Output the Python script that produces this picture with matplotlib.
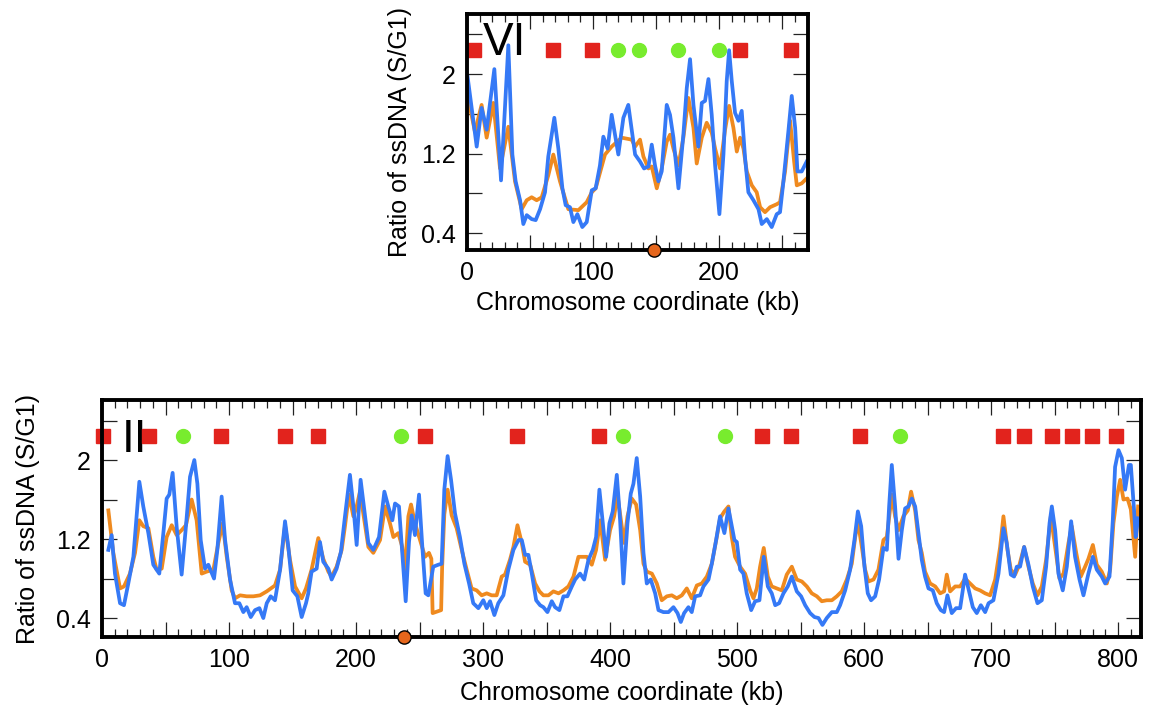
import matplotlib
matplotlib.use('Agg')
from matplotlib import pyplot as plt
from matplotlib.ticker import MultipleLocator, FixedLocator, FuncFormatter

plt.rcParams['font.family'] = ['Liberation Sans', 'DejaVu Sans']

# ---- chromosome VI (top panel) ----
vi_blue_kb = [0.5, 7.7, 11.6, 15.6, 21.7, 27, 32.8, 36, 38.6, 42.1, 44.7, 47.4, 51.3, 54.5, 58, 61.9,
              64.5, 69.3, 72.5, 75.7, 78.3, 81.7, 84.4, 87.6, 91.5, 95, 99, 102.1, 105.5, 108.2, 111.6,
              114.8, 120.1, 124.1, 128, 133.4, 137.3, 140.5, 144, 146.6, 149.2, 151.9, 154.5, 158.5,
              161.1, 163.8, 167.8, 171.7, 174.4, 177, 179.7, 183.6, 186.3, 188.9, 191.6, 194.2, 196.9,
              200.3, 203.5, 206.1, 208, 210.1, 212.7, 215.4, 218, 220.7, 223.3, 227.3, 231.3, 233.9,
              237.9, 241.8, 245.8, 248.4, 251.1, 255, 257.7, 260.4, 262.2, 265.6, 269.6]
vi_blue = [1.97, 1.27, 1.66, 1.44, 2.05, 0.93, 2.29, 1.19, 0.92, 0.73, 0.49, 0.58, 0.54, 0.53, 0.64, 0.81,
           1.17, 1.56, 1.25, 0.85, 0.68, 0.66, 0.51, 0.59, 0.46, 0.51, 0.83, 0.85, 1.08, 1.37, 1.25,
           1.59, 1.19, 1.56, 1.69, 1.19, 1.12, 1.05, 1.07, 1.29, 1.08, 0.92, 1.02, 1.69,
           1.59, 1.36, 0.85, 1.39, 1.86, 2.15, 1.69, 1.27, 1.71, 1.73, 1.95, 1.59, 1.08,
           0.59, 1.19, 1.93, 2.24, 1.93, 1.61, 1.53, 1.63, 1.15, 0.81, 0.73, 0.64, 0.49,
           0.54, 0.46, 0.59, 0.61, 0.92, 1.42, 1.78, 1.46, 1.02, 1.02, 1.12]

vi_orange_kb = [0.5, 6.3, 11.6, 15.6, 20.9, 26.2, 32.8, 38.1, 43.4, 47.4, 51.3, 55.3, 59.3, 64.5, 68.5,
                73.8, 80.4, 88.4, 95, 99, 102.1, 109.5, 114.8, 122.7, 130.7, 133.4, 137.3, 140, 144,
                146.6, 150.6, 154.5, 158.5, 161.1, 163.8, 167.8, 171.7, 175.7, 179.7, 182.3, 186.3,
                190.2, 194.2, 196.9, 200.8, 204.8, 208, 211.4, 214.1, 216.7, 219.4, 222, 226, 229.9,
                232.6, 236.5, 240.5, 245.8, 248.4, 252.4, 256.4, 259.6, 261.7, 265.6, 269.6]
vi_orange = [1.78, 1.42, 1.69, 1.36, 1.71, 1.05, 1.47, 0.92, 0.64, 0.73, 0.76, 0.73, 0.76, 0.98, 1.19,
             0.92, 0.64, 0.63, 0.71, 0.81, 0.85, 1.19, 1.27, 1.36, 1.34, 1.27, 1.34, 1.17, 1.05,
             1.07, 0.85, 1.05, 1.32, 1.39, 1.25, 1.08, 1.36, 1.76, 1.46, 1.10, 1.36,
             1.51, 1.41, 1.25, 1.05, 1.44, 1.68, 1.46, 1.22, 1.36, 1.25, 1.02, 0.88, 0.81,
             0.66, 0.61, 0.66, 0.69, 0.71, 1.02, 1.53, 1.12, 0.88, 0.90, 0.95]

vi_red = [5.5, 68, 99, 216.7, 257]
vi_green = [120, 136.5, 167.5, 200]
vi_cen = 148

# ---- chromosome II (bottom panel) ----
ii_blue_kb = [5, 7.6, 10.2, 14.2, 17.3, 20.7, 24.7, 29.4, 32.5, 36.5, 40.4, 45.1, 48.3, 50.9, 53, 55.6,
              58.8, 62.7, 66.1, 69.3, 72.7, 75.1, 77.7, 81.1, 83.7, 88.2, 90.8, 94.2, 96.9, 100.8, 104.7,
              108.1, 111.3, 113.9, 117.1, 120.5, 123.9, 127, 129.7, 132.8, 136.2, 140.2, 144.1, 146.7,
              150.1, 153.8, 157.2, 160.6, 162.4, 165, 169, 171.6, 174.2, 178.2, 180.8, 184.7, 188.1,
              191.3, 195.2, 197.9, 200.5, 203.6, 207.1, 209.7, 213.6, 218.1, 222.3, 225.4, 228.6, 230.7,
              233.8, 236.4, 239.1, 241.7, 243.8, 246.4, 249.6, 252.2, 254.8, 256.9, 260.8, 264.8, 267.4,
              269.5, 272.1, 274.8, 277.9, 281.8, 285.3, 289, 292.3, 296.3, 300.2, 302.9, 305.5, 308.9,
              312, 316, 319.9, 323.9, 327.9, 330.5, 333.1, 335.7, 338.4, 341.8, 344.9, 347.5, 350.7,
              354.1, 356.7, 360.1, 363.3, 366.4, 369.9, 372.5, 376.4, 379.6, 383, 386.4, 389, 391.6,
              394.3, 396.9, 399.5, 402.1, 405.3, 407.9, 410.5, 413.7, 416.3, 418.4, 421, 423.7, 426.3,
              428.9, 432, 435.5, 438.1, 442, 446, 449.9, 453.1, 455.7, 458.3, 461.7, 464.3, 467, 470.9,
              473.5, 477.5, 480.1, 483.5, 486.6, 490, 493.2, 495.8, 497.9, 499.8, 502.4, 505, 507.6,
              511.1, 514.2, 517.6, 521, 524.2, 527.3, 530, 533.1, 536.5, 539.9, 543.1, 547, 550.4,
              553.6, 557.5, 560.9, 564.1, 567.2, 570.6, 574.6, 578.5, 581.1, 585.1, 589, 592.4, 595.1,
              597.7, 600.3, 602.9, 605.5, 608.7, 611.8, 615.2, 617.9, 619.7, 621.8, 624.4, 627.1, 629.7,
              632.3, 634.9, 637.6, 640.2, 642.8, 645.4, 648, 650.7, 654.1, 657.2, 660.4, 663, 665.6,
              669, 672.4, 675.6, 679.5, 683, 685.6, 688.7, 691.9, 695.3, 698, 701.8, 705.8, 709.7,
              712.3, 715.5, 718.1, 720.2, 722.8, 726, 729.4, 732.8, 736.5, 739.9, 743.3, 746, 747.8,
              750.4, 753, 756.4, 759.6, 763, 766.1, 769.6, 772.7, 776.6, 780.1, 783.2, 787.1, 789.8,
              793.2, 795.8, 797.6, 800.3, 802.9, 805.5, 808.5, 810, 812.5, 813.8, 815.7]
ii_blue = [1.09, 1.24, 0.85, 0.55, 0.53, 0.75, 1.02, 1.78, 1.53, 1.26, 0.94, 0.85, 1.26, 1.61, 1.65, 1.87,
           1.32, 0.84, 1.33, 1.83, 2.0, 1.76, 1.19, 0.90, 0.94, 0.80, 1.09, 1.63, 1.19, 0.79, 0.55,
           0.55, 0.46, 0.51, 0.41, 0.48, 0.50, 0.40, 0.55, 0.62, 0.58, 0.89, 1.38, 1.12,
           0.68, 0.62, 0.41, 0.55, 0.65, 0.87, 0.90, 1.17, 0.97, 0.90, 0.79, 0.90, 1.07,
           1.43, 1.85, 1.53, 1.14, 1.80, 1.43, 1.16, 1.09, 1.22, 1.68, 1.53, 1.39, 1.56,
           1.53, 1.06, 0.57, 1.17, 1.44, 1.24, 1.65, 1.12, 0.65, 0.63, 0.92, 0.94, 0.95,
           1.70, 2.04, 1.80, 1.46, 1.22, 0.95, 0.75, 0.55, 0.50, 0.58, 0.50, 0.57, 0.43,
           0.55, 0.63, 0.89, 1.09, 1.19, 1.19, 1.04, 1.04, 0.85, 0.58, 0.53, 0.51, 0.46,
           0.57, 0.51, 0.48, 0.62, 0.62, 0.72, 0.79, 0.85, 0.79, 0.99, 1.09, 1.22, 1.70,
           1.36, 1.02, 1.36, 1.48, 1.85, 1.39, 0.75, 1.36, 1.66, 1.76, 2.02, 1.63, 1.06,
           0.75, 0.79, 0.65, 0.48, 0.46, 0.46, 0.51, 0.45, 0.36, 0.45, 0.51, 0.46, 0.62, 0.63,
           0.72, 0.79, 0.95, 1.19, 1.43, 1.26, 1.51, 1.33, 1.19, 1.17, 0.89, 0.85, 0.65,
           0.48, 0.57, 0.58, 1.02, 0.72, 0.65, 0.53, 0.55, 0.65, 0.72, 0.82, 0.67, 0.62,
           0.53, 0.45, 0.41, 0.40, 0.33, 0.40, 0.46, 0.46, 0.53, 0.68, 0.89, 1.19, 1.48,
           1.33, 0.92, 0.65, 0.58, 0.62, 0.79, 1.11, 1.09, 1.53, 1.95, 1.53, 1.00, 1.29,
           1.51, 1.53, 1.61, 1.53, 1.26, 0.99, 0.82, 0.70, 0.68, 0.55, 0.48, 0.46, 0.63,
           0.45, 0.50, 0.50, 0.84, 0.65, 0.51, 0.45, 0.53, 0.46, 0.55, 0.58, 0.85, 1.31,
           1.16, 0.84, 0.82, 0.92, 0.92, 1.12, 0.94, 0.72, 0.55, 0.58, 0.92, 1.36, 1.53,
           1.29, 0.85, 0.68, 0.92, 1.38, 1.02, 0.79, 0.63, 0.85, 1.02, 0.89, 0.82, 0.75,
           0.82, 1.39, 1.93, 2.10, 2.02, 1.70, 1.95, 1.95, 1.50, 1.22, 1.41]

ii_orange_kb = [5, 8.9, 14.2, 17.3, 22, 26, 29.4, 32.5, 36.5, 40.4, 43, 47, 50.9, 54.9, 58.8, 62.7, 66.1,
                70.6, 74.5, 78.5, 82.4, 87.7, 91.6, 95, 98.2, 102.1, 104.7, 108.7, 113.9, 119.2, 124.4,
                129.7, 136.2, 140.2, 144.1, 148, 152, 157.2, 160.6, 165, 170.3, 174.2, 178.2, 180.8,
                184.7, 188.7, 191.3, 194.4, 197.9, 200.5, 203.1, 206.5, 209.7, 213.6, 218.9, 222.8,
                226.7, 229.4, 233.3, 236.4, 238.5, 241.2, 243.3, 246.4, 250.4, 254.3, 257.4, 259.3,
                260.3, 267, 267.8, 269.5, 272.1, 275.3, 279.2, 283.2, 287.1, 291, 295, 298.9, 302.9,
                306.8, 310.7, 314.7, 317.3, 321.2, 323.9, 327.1, 330.5, 333.1, 337.1, 341, 344.4,
                347.5, 351.5, 355.4, 359.4, 363.3, 367.2, 371.2, 375.1, 377.7, 381.7, 385.6, 389,
                392.2, 396.1, 400, 403.2, 405.8, 409.2, 411.1, 413.7, 417.1, 420.5, 423.7, 426.3,
                428.9, 432.9, 436.8, 440.7, 444.7, 448.6, 452.5, 456.5, 460.4, 464.3, 468.3, 472.2,
                476.2, 480.1, 484, 486.6, 490, 493.2, 495.8, 498.4, 502.4, 506.3, 510.3, 512.9,
                515.5, 518.1, 521, 524.2, 527.3, 531.3, 535.2, 539.1, 543.1, 547, 551, 554.9, 558.8,
                562.8, 566.7, 570.6, 574.6, 578.5, 582.4, 586.4, 590.3, 593, 595.1, 598.2, 600.8,
                603.4, 607.4, 611.3, 615.2, 617.9, 621.8, 624.4, 627.1, 630.9, 634.4, 637, 640.2,
                642.8, 645.4, 648, 652, 656, 659.9, 663, 665.1, 667.7, 671.7, 675.6, 679.5, 683.5,
                687.4, 691.3, 695.3, 699.2, 703.2, 707.1, 709.7, 712.9, 715.5, 718.9, 722.3, 726,
                729.4, 732.8, 736.5, 739.9, 743.3, 747, 750.4, 753.8, 757, 760.9, 763.5, 767, 770.6,
                774, 776.6, 780.1, 783.2, 787.1, 791.1, 793.7, 796.3, 799, 801.6, 804.2, 807.4, 810,
                813.4, 815.7]
ii_orange = [1.49, 1.06, 0.70, 0.72, 0.85, 1.06, 1.39, 1.33, 1.31, 1.02, 0.89, 0.90, 1.22, 1.34, 1.24, 1.29, 1.34,
             1.60, 1.39, 0.85, 0.87, 0.89, 1.16, 1.36, 1.02, 0.68, 0.60, 0.63, 0.62, 0.62, 0.63,
             0.67, 0.73, 0.89, 1.34, 0.99, 0.72, 0.60, 0.70, 0.89, 1.21, 1.00, 0.87, 0.82,
             0.92, 1.09, 1.33, 1.65, 1.43, 1.53, 1.68, 1.39, 1.12, 1.06, 1.19, 1.53,
             1.36, 1.22, 1.26, 1.12, 0.85, 1.43, 1.55, 1.36, 1.19, 1.02, 1.06, 1.00,
             0.45, 0.48, 0.92, 1.45, 1.70, 1.44, 1.31, 1.09, 0.89, 0.70, 0.68, 0.63, 0.65,
             0.63, 0.63, 0.82, 0.84, 0.99, 1.12, 1.34, 1.16, 0.97, 0.94, 0.75, 0.67,
             0.63, 0.63, 0.67, 0.65, 0.68, 0.72, 0.82, 1.02, 1.02, 1.02, 0.94, 1.09,
             1.39, 0.99, 1.29, 1.43, 1.65, 1.33, 1.16, 1.43, 1.61, 1.55, 1.29, 0.95,
             0.87, 0.85, 0.75, 0.58, 0.62, 0.63, 0.60, 0.63, 0.70, 0.60, 0.73, 0.75,
             0.82, 0.95, 1.22, 1.41, 1.48, 1.53, 1.22, 1.02, 0.92, 0.85, 0.68, 0.60,
             0.70, 0.92, 1.11, 0.82, 0.72, 0.70, 0.68, 0.84, 0.92, 0.79, 0.77, 0.72, 0.65,
             0.62, 0.57, 0.58, 0.58, 0.62, 0.67, 0.79, 0.95, 1.22, 1.38, 1.12, 0.89,
             0.77, 0.79, 0.89, 1.19, 1.22, 1.65, 1.43, 1.29, 1.43, 1.49, 1.68, 1.49,
             1.19, 1.06, 0.87, 0.75, 0.72, 0.65, 0.67, 0.84, 0.67, 0.72, 0.72, 0.80, 0.75,
             0.70, 0.68, 0.65, 0.63, 0.79, 1.12, 1.43, 1.09, 0.89, 0.84, 0.94, 1.12,
             0.92, 0.75, 0.63, 0.72, 0.99, 1.43, 1.12, 0.80, 0.85, 1.16, 1.33, 1.06, 0.82,
             0.92, 1.00, 1.14, 0.94, 0.87, 0.75, 0.89, 1.36, 1.63, 1.80, 1.60, 1.61, 1.50,
             1.02, 1.53]

ii_red = [1, 37, 94, 144, 170, 254.3, 326.5, 391, 520, 542.3, 596.6, 709.4, 726, 748, 763.5, 779.5, 798.2]
ii_green = [63.5, 235.4, 410, 490.6, 628.3]
ii_cen = 238

BLUE = '#3579f6'
ORANGE = '#ef8a1f'
RED = '#e2231d'
GREEN = '#78ec2e'
CEN = '#e5661c'
MARK_Y = 2.24
FS = 18

fig = plt.figure(figsize=(11.51, 7.17), dpi=100)
ax_top = fig.add_axes([467 / 1151, 1 - 250 / 717, 341 / 1151, 236 / 717])
ax_bot = fig.add_axes([102 / 1151, 1 - 637 / 717, 1039 / 1151, 237 / 717])

ylabels = {0.4: '0.4', 1.2: '1.2', 2.0: '2'}


def draw(ax, bkb, bval, okb, oval, red, green, cen, xmax, ymin, ymax, name, name_xy, ylab_x, xlab_y):
    ax.plot(okb, oval, color=ORANGE, lw=2.7, zorder=2, solid_joinstyle='round')
    ax.plot(bkb, bval, color=BLUE, lw=2.7, zorder=3, solid_joinstyle='round')
    ax.plot(red, [MARK_Y] * len(red), 's', ms=9.5, color=RED, clip_on=False, zorder=4)
    ax.plot(green, [MARK_Y] * len(green), 'o', ms=10, color=GREEN, clip_on=False, zorder=4)
    ax.plot([cen], [ymin], 'o', ms=9.5, mfc=CEN, mec='black', mew=1, clip_on=False, zorder=6)
    ax.text(name_xy[0], name_xy[1], name, transform=ax.transAxes, fontsize=33, va='baseline')

    ax.set_xlim(0, xmax)
    ax.set_ylim(ymin, ymax)
    for s in ax.spines.values():
        s.set_linewidth(2.8)
        s.set_zorder(5)
    ax.xaxis.set_major_locator(MultipleLocator(50))
    ax.xaxis.set_minor_locator(MultipleLocator(10))
    ax.xaxis.set_major_formatter(FuncFormatter(lambda v, p: '%d' % v if round(v) % 100 == 0 else ''))
    ax.yaxis.set_major_locator(FixedLocator([0.4, 0.8, 1.2, 1.6, 2.0, 2.4]))
    ax.yaxis.set_major_formatter(FuncFormatter(lambda v, p: ylabels.get(round(v, 1), '')))
    ax.tick_params(which='both', direction='in', top=True, right=True, labelsize=FS,
                   color='#222222', width=0.9)
    ax.tick_params(which='major', length=11, pad=8)
    ax.tick_params(which='minor', length=6)

    ax.set_ylabel('Ratio of ssDNA (S/G1)', fontsize=FS)
    ax.set_xlabel('Chromosome coordinate (kb)', fontsize=FS)
    ax.yaxis.label.set_va('center')
    ax.xaxis.label.set_va('center')
    ax.yaxis.set_label_coords(ylab_x, 0.5)
    ax.xaxis.set_label_coords(0.5, xlab_y)


draw(ax_top, vi_blue_kb, vi_blue, vi_orange_kb, vi_orange, vi_red, vi_green, vi_cen,
     270.6, 0.229, 2.605, 'VI', (0.047, 0.826), -0.196, -0.225)
draw(ax_bot, ii_blue_kb, ii_blue, ii_orange_kb, ii_orange, ii_red, ii_green, ii_cen,
     818, 0.208, 2.608, 'II', (0.019, 0.782), -0.0712, -0.236)

fig.savefig('out.png', dpi=100)
